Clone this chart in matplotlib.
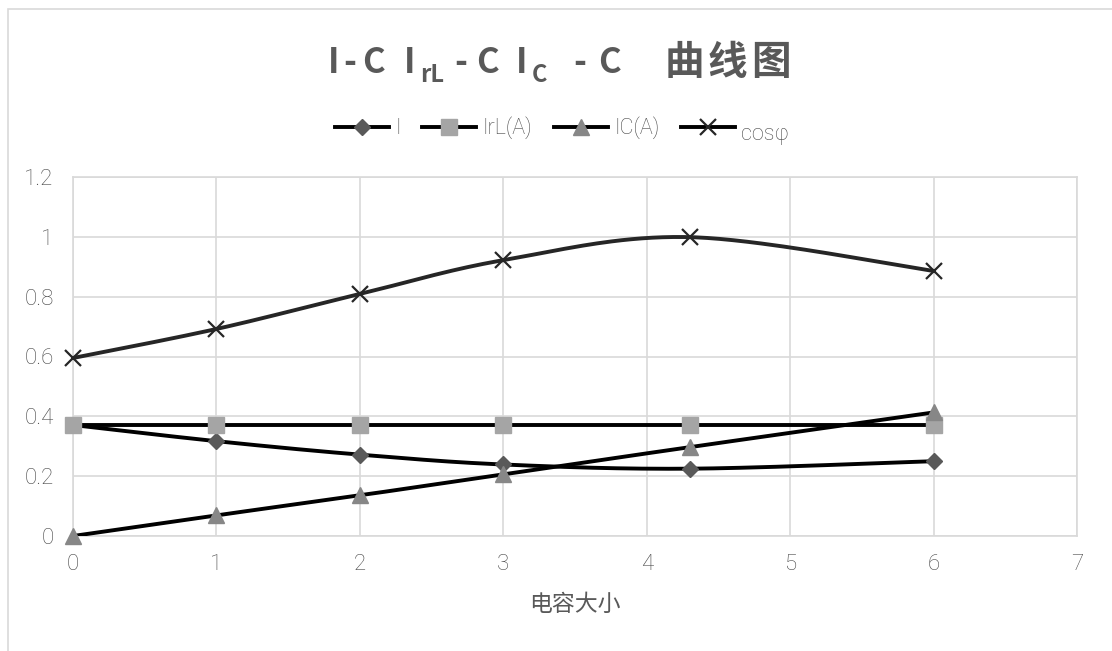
import matplotlib
matplotlib.use("Agg")
import matplotlib.pyplot as plt
from matplotlib.lines import Line2D
from matplotlib.patches import Rectangle
import numpy as np

plt.rcParams['font.family'] = ['Noto Sans CJK SC', 'DejaVu Sans']

# 数据: 电容大小 与 各电流 / 功率因数
capacitance = [0, 1, 2, 3, 4.3, 6]
i_total = [0.371, 0.317, 0.272, 0.239, 0.225, 0.250]
i_rl = [0.371, 0.371, 0.371, 0.371, 0.371, 0.371]
i_c = [0.0, 0.069, 0.136, 0.206, 0.297, 0.413]
cos_phi = [0.595, 0.692, 0.809, 0.922, 0.999, 0.886]

series_labels = ['I', 'IrL(A)', 'IC(A)', 'cosφ']
x_ticks = [0, 1, 2, 3, 4, 5, 6, 7]
y_ticks = [0, 0.2, 0.4, 0.6, 0.8, 1.0, 1.2]
y_tick_labels = ['0', '0.2', '0.4', '0.6', '0.8', '1', '1.2']
x_label = '电容大小'

W, H = 1112, 651
text_grey = '#595959'
tick_grey = '#474747'
grid_grey = '#d9d9d9'
light_font = ['Roboto', 'Noto Sans CJK SC', 'DejaVu Sans']


# Excel 式平滑曲线 (在屏幕坐标里做贝塞尔)
def excel_smooth(ax, xs, ys, n=40):
    pts = ax.transData.transform(np.column_stack([xs, ys]))
    m = len(pts)
    out = []
    t = np.linspace(0, 1, n)[:, None]
    for k in range(m - 1):
        p0 = pts[k - 1] if k > 0 else pts[k]
        p1 = pts[k]
        p2 = pts[k + 1]
        p3 = pts[k + 2] if k + 2 < m else pts[k + 1]
        c1 = p1 + (p2 - p0) / 6
        c2 = p2 - (p3 - p1) / 6
        seg = (1 - t) ** 3 * p1 + 3 * (1 - t) ** 2 * t * c1 + 3 * (1 - t) * t ** 2 * c2 + t ** 3 * p2
        out.append(seg if k == 0 else seg[1:])
    return ax.transData.inverted().transform(np.vstack(out))


fig = plt.figure(figsize=(W / 100, H / 100), dpi=100)

# 外框
fig.patches.append(Rectangle((8 / W, -0.1), 2, 1 - 9 / H + 0.1, transform=fig.transFigure,
                             fill=False, edgecolor=grid_grey, lw=1.2))

ax = fig.add_axes([73 / W, (H - 536) / H, 1004 / W, 359 / H])
ax.set_xlim(0, 7)
ax.set_ylim(0, 1.2)
ax.set_xticks(x_ticks)
ax.set_yticks(y_ticks)
ax.set_yticklabels(y_tick_labels)
ax.grid(True, color=grid_grey, lw=1.2)
ax.set_axisbelow(True)
for sp in ax.spines.values():
    sp.set_color(grid_grey)
    sp.set_linewidth(1.2)
ax.tick_params(length=0, labelsize=16, labelcolor=tick_grey)
ax.tick_params(axis='x', pad=13)
ax.tick_params(axis='y', pad=14)
for lab in ax.get_xticklabels() + ax.get_yticklabels():
    lab.set_family(light_font)
    lab.set_fontweight('light')
ax.set_xlabel(x_label, fontsize=16.5, color=text_grey, labelpad=13)

styles = [
    dict(marker='D', ms=8, mfc='#595959', mec='#595959', line='black'),
    dict(marker='s', ms=12, mfc='#a5a5a5', mec='#a5a5a5', line='black'),
    dict(marker='^', ms=12, mfc='#878787', mec='#878787', line='black'),
    dict(marker='x', ms=12, mfc='#262626', mec='#262626', line='#262626'),
]
all_series = [i_total, i_rl, i_c, cos_phi]

handles = []
for k, (ys, st) in enumerate(zip(all_series, styles)):
    curve = excel_smooth(ax, capacitance, ys)
    ax.plot(curve[:, 0], curve[:, 1], color=st['line'], lw=2.8, zorder=3 + 2 * k,
            solid_capstyle='round')
    mew = 1.6 if st['marker'] == 'x' else 1
    ax.plot(capacitance, ys, ls='none', marker=st['marker'], ms=st['ms'], mfc=st['mfc'],
            mec=st['mec'], mew=mew, zorder=4 + 2 * k, clip_on=False)
    handles.append(Line2D([], [], color='black', lw=2.8, marker=st['marker'], ms=st['ms'],
                          mfc=st['mfc'], mec=st['mec'], mew=mew))

leg = fig.legend(handles, series_labels, loc='center', bbox_to_anchor=(562 / W, 1 - 128 / H),
                 ncol=4, frameon=False, fontsize=15.5, handlelength=2.5, handletextpad=0.3,
                 columnspacing=1.0, labelcolor=tick_grey)
for tx in leg.get_texts():
    tx.set_family(light_font)
    tx.set_fontweight('light')
leg.get_texts()[3].set_family(['Roboto', 'DejaVu Sans'])
leg.get_texts()[3].set_y(-6)

# 标题 (带下标), 逐段放置
def put(x, y, s, size):
    fig.text(x / W, 1 - y / H, s, ha='center', va='baseline', fontsize=size,
             fontweight='bold', color=text_grey)

main_size = 25
sub_size = 17
put(334, 73, 'I', main_size)
put(350, 73, '-', main_size)
put(373, 73, 'C', main_size)
put(410, 73, 'I', main_size)
put(432, 82, 'rL', sub_size)
put(461, 73, '-', main_size)
put(487, 73, 'C', main_size)
put(522, 73, 'I', main_size)
put(539, 82, 'C', sub_size)
put(580, 73, '-', main_size)
put(609, 73, 'C', main_size)
put(684, 74, '曲', 28.5)
put(727, 74, '线', 28.5)
put(771, 74, '图', 28.5)

fig.savefig('out.png', dpi=100)
